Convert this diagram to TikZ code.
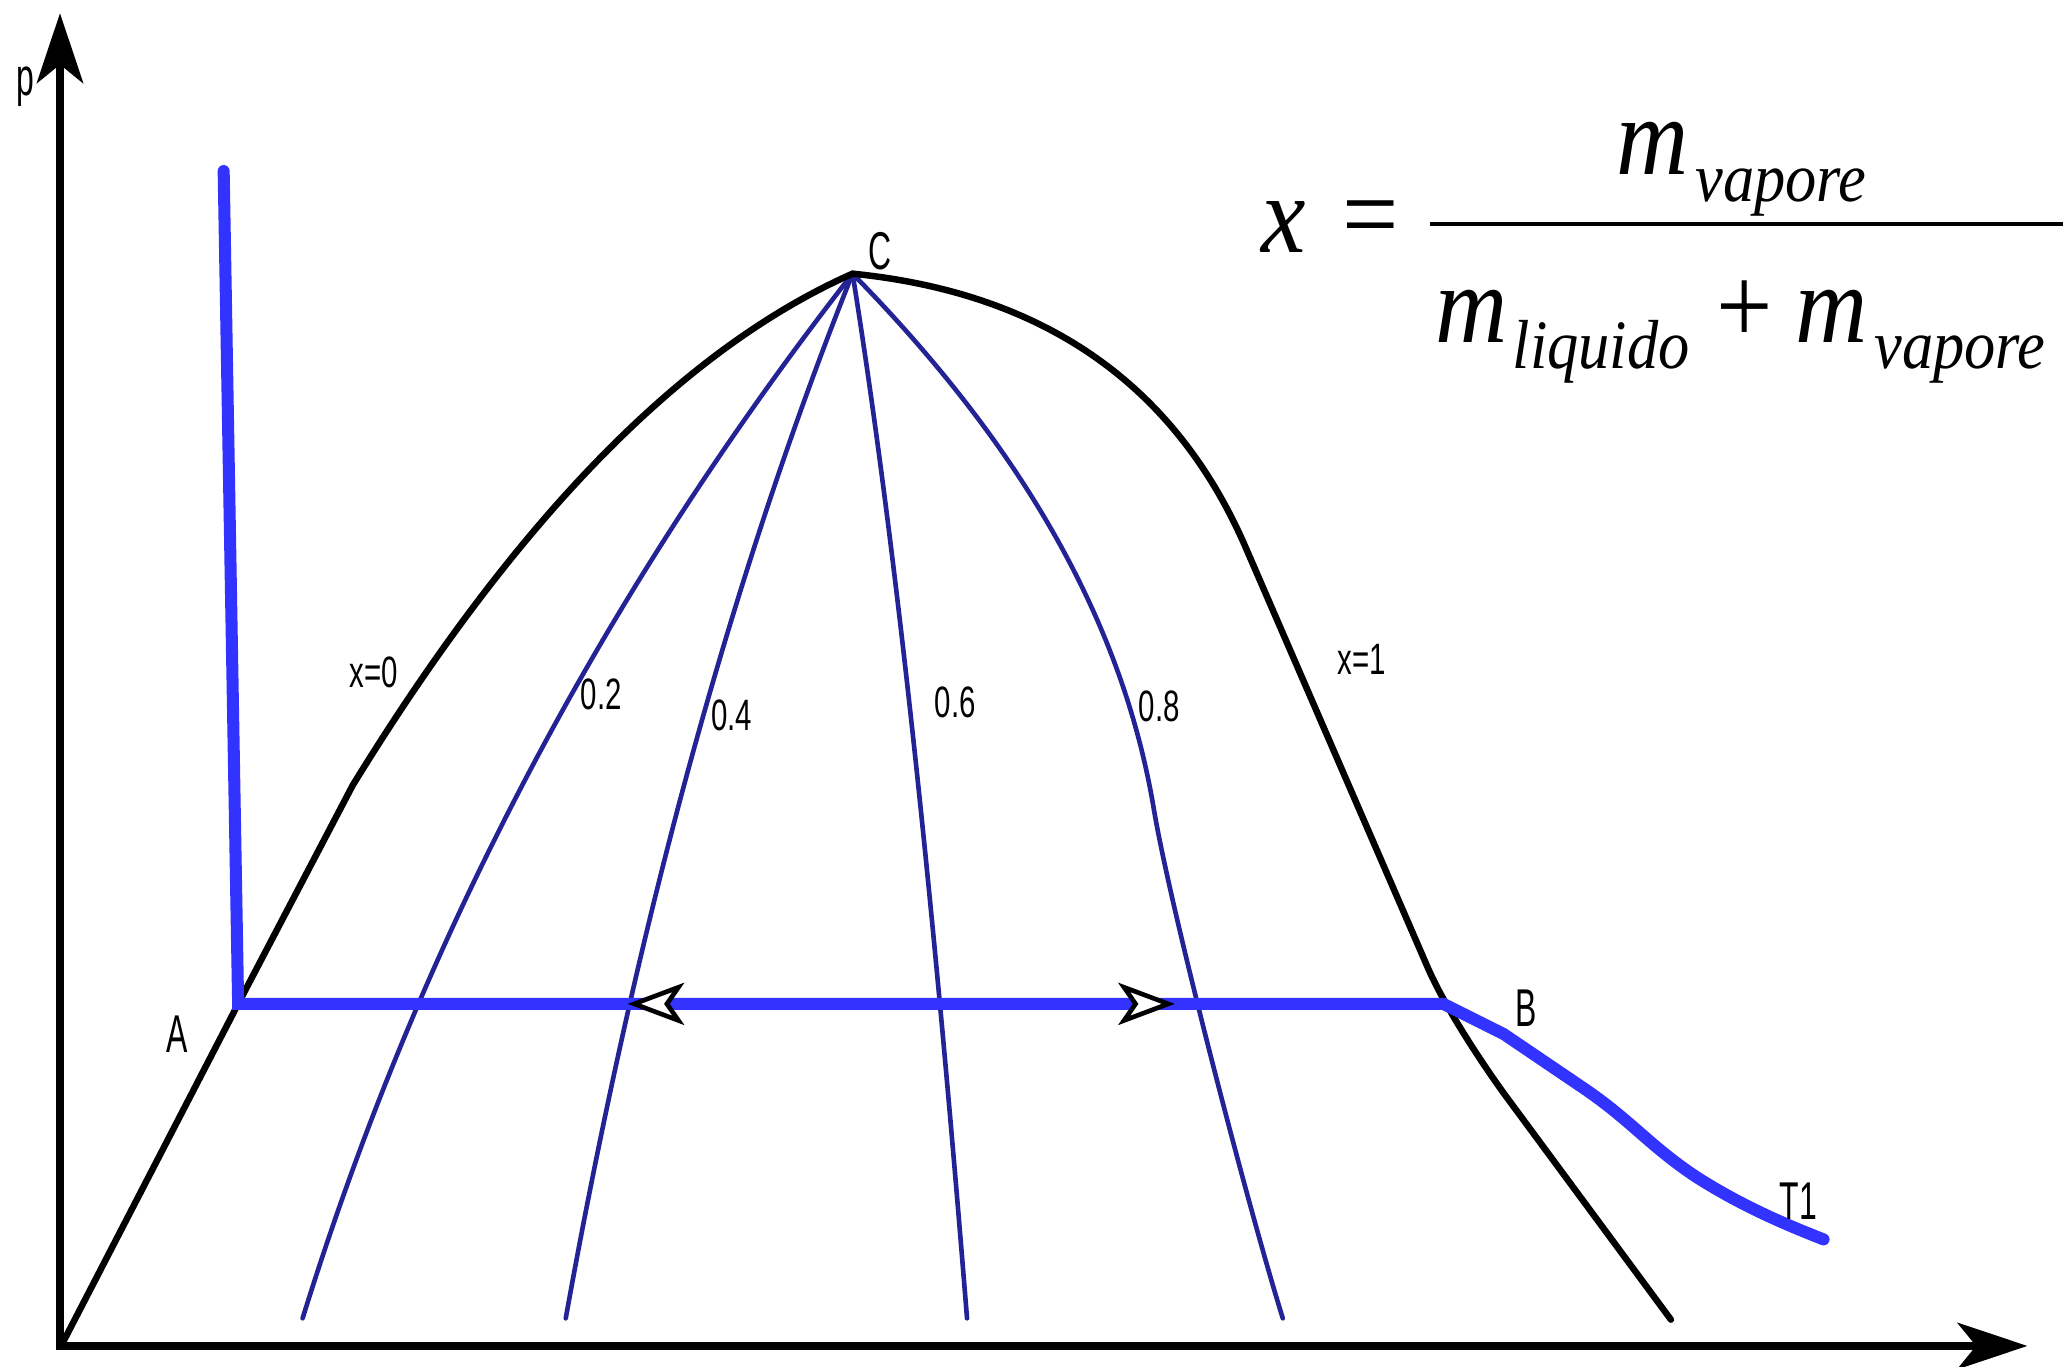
\documentclass[tikz,border=0pt]{standalone}
\usepackage{fontspec}
\usetikzlibrary{arrows.meta}
\newfontfamily\fml[FakeStretch=0.9]{Liberation Serif}
\newfontfamily\cadS[FakeStretch=0.67]{Liberation Sans}
\newfontfamily\cadL[FakeStretch=0.6]{Liberation Sans}
\definecolor{thickblue}{RGB}{51,51,255}
\definecolor{qblue}{RGB}{35,35,150}
\begin{document}
\begin{tikzpicture}[x=0.01cm,y=-0.01cm,
  axisline/.style={line width=1.9pt, line join=miter,
    {Stealth[length=0.53cm,width=0.35cm,inset=0.14cm]}-{Stealth[length=0.53cm,width=0.35cm,inset=0.14cm]}},
  dome/.style={line width=1.4pt, line cap=round, line join=round},
  qline/.style={qblue, line width=1.0pt, line cap=round},
  proc/.style={thickblue, line width=2.6pt, line cap=round, line join=miter},
  opentip/.style={thickblue, line width=2.6pt,
    {Stealth[color=black, fill=white, length=0.43cm, width=0.32cm, inset=0.11cm, line width=1pt]}-{Stealth[color=black, fill=white, length=0.43cm, width=0.32cm, inset=0.11cm, line width=1pt]}},
  small/.style={font=\cadS\fontsize{9.5}{11}\selectfont, inner sep=0pt},
  big/.style={font=\cadL\fontsize{11.5}{13}\selectfont, inner sep=0pt},
  eq/.style={font=\fml\itshape\fontsize{24}{28}\selectfont, inner sep=0pt, anchor=base west},
  eqsub/.style={font=\fml\itshape\fontsize{15}{18}\selectfont, inner sep=0pt, anchor=base west},
  eqop/.style={font=\fml\fontsize{24}{28}\selectfont, inner sep=0pt},
]
\useasboundingbox (0,0) rectangle (1568,1039);

% key points
\coordinate (O) at (45.6,1023);
\coordinate (Ytip) at (45.6,10);
\coordinate (Xtip) at (1541,1023);
\coordinate (A) at (181,763);
\coordinate (B) at (1097,763);
\coordinate (C) at (648,208);
\coordinate (Top) at (170,130);
\coordinate (L) at (477,763);
\coordinate (R) at (893,763);
\coordinate (D0) at (48,1020);
\coordinate (K) at (268,597);
\coordinate (S) at (945,412);
\coordinate (Dend) at (1270,1003);

% axes
\draw[axisline] (Ytip) -- (O) -- (Xtip);

% quality lines
\coordinate (q2) at (230,1002);
\coordinate (q4) at (430,1002);
\coordinate (q6) at (735,1002);
\coordinate (q8m) at (877,615);
\coordinate (q8) at (975,1002);
\draw[qline] (C) .. controls (457.8,451.8) and (318.5,716.5) .. (q2);
\draw[qline] (C) .. controls (557,435.6) and (484.3,700.3) .. (q4);
\draw[qline] (C) .. controls (679.4,404) and (708.3,668.7) .. (q6);
\draw[qline] (C) .. controls (775.3,337.9) and (852.7,470) .. (q8m)
  .. controls (889.5,690) and (948,915) .. (q8);

% saturation dome
\draw[dome] (D0) -- (A) -- (K) .. controls (389,400) and (515,267) .. (C);
\draw[dome] (C) .. controls (791.6,222.4) and (890.6,290.3) .. (S)
  -- (1085,735) .. controls (1098,765) and (1125,806) .. (1143,831) -- (Dend);

% isotherm
\draw[proc] (Top) -- (A) -- (B) -- (1143,786) -- (1205,828)
  .. controls (1240,852) and (1255,872) .. (1290,895)
  .. controls (1320,914) and (1350,928) .. (1386,942);
\draw[opentip] (L) -- (R);

% labels
\node[big] (lp) at (19,66) {p};
\node[big] (lC) at (669,191) {C};
\node[big] (lA) at (135,786) {A};
\node[big] (lB) at (1160,766) {B};
\node[big] (lT) at (1367,913) {T1};
\node[small] (l0) at (284,511) {x=0};
\node[small] (l2) at (457,528) {0.2};
\node[small] (l4) at (556,544) {0.4};
\node[small] (l6) at (726,534) {0.6};
\node[small] (l8) at (881,537) {0.8};
\node[small] (l1) at (1035,501) {x=1};

% formula
\node[eq] (fx) at (958,192) {x};
\node[eqop] (feq) at (1042,172) {=};
\coordinate (barL) at (1087,170);
\coordinate (barR) at (1568,170);
\draw[line width=0.9pt] (barL) -- (barR);
\node[eq] (nm) at (1228,133) {m};
\node[eqsub] (nv) at (1288,153) {vapore};
\node[eq] (dm1) at (1090,260) {m};
\node[eqsub] (dl) at (1149,280) {liquido};
\node[eqop] (dp) at (1326,237) {+};
\node[eq] (dm2) at (1364,260) {m};
\node[eqsub] (dv) at (1424,280) {vapore};
\end{tikzpicture}
\end{document}
